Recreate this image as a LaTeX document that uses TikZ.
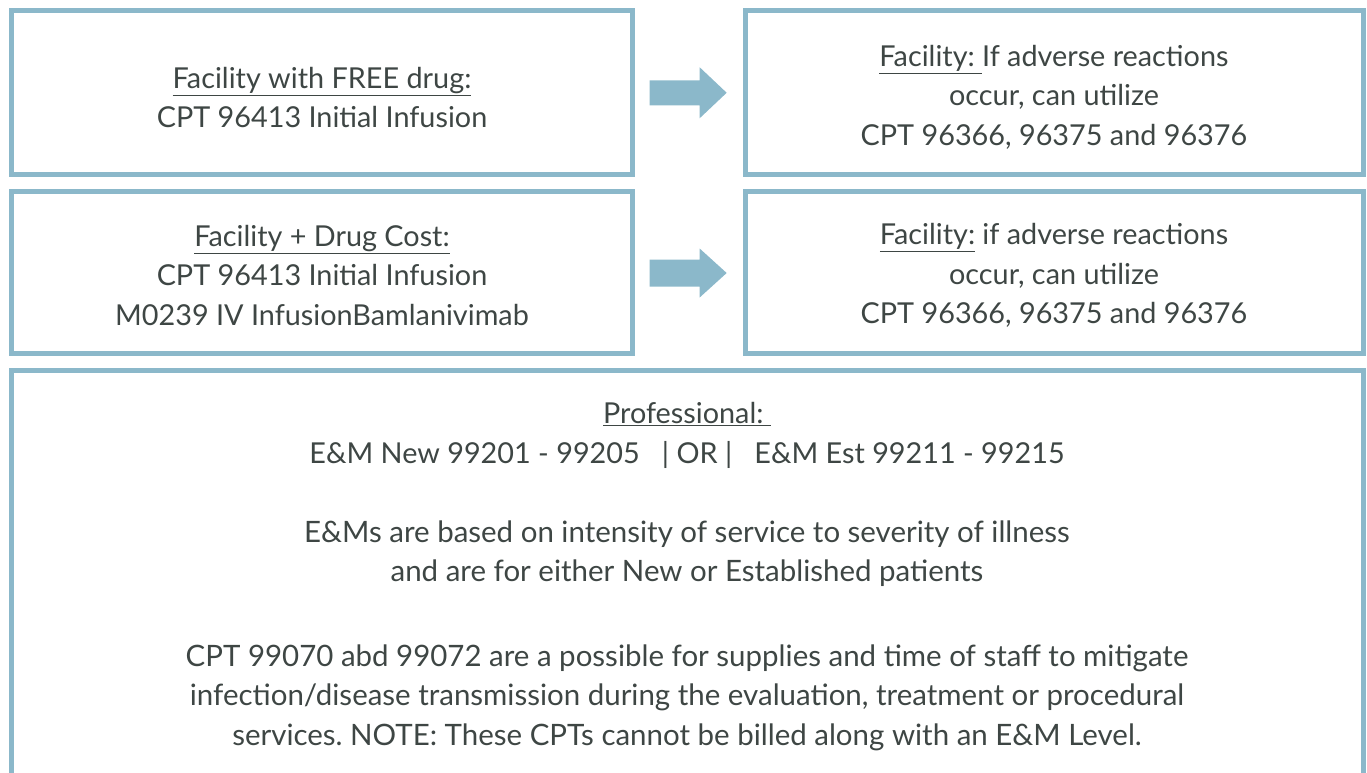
\documentclass[tikz,border=0pt]{standalone}
\usepackage{fontspec}
\setmainfont{Lato}
\usetikzlibrary{positioning,calc}
\definecolor{boxblue}{RGB}{139,184,202}
\definecolor{txtgrey}{RGB}{62,70,68}
\tikzset{
  codebox/.style={draw=boxblue, line width=3.75pt, minimum width=466pt, minimum height=123pt, inner sep=0pt},
  codetext/.style={text=txtgrey, align=center, inner sep=0pt, font=\fontsize{21.6}{29.6}\selectfont\frenchspacing}
}

\begin{document}
\begin{tikzpicture}[x=0.75pt,y=0.75pt,yscale=-1,xscale=1]
    \useasboundingbox (0,0) rectangle (1367,772);

    % Facility rows
    \node [codebox] (free) at (322,92.25) {};
    \node [codebox, minimum width=463.5pt] (freeadv) at (1054,92.25) {};
    \node [codebox, minimum height=122pt] (cost) at (322,272.5) {};
    \node [codebox, minimum width=463.5pt, minimum height=122pt] (costadv) at (1054,272.5) {};

    \node [codetext] (freetxt) at ([yshift=3.75pt]free.center) {\underline{Facility with FREE drug:}\\CPT 96413 Initial Infusion};
    \node [codetext] (freeadvtxt) at ([yshift=3.75pt]freeadv.center) {\underline{Facility: }If adverse reactions\\occur, can utilize\\CPT 96366, 96375 and 96376};
    \node [codetext] (costtxt) at ([yshift=2.25pt]cost.center) {\underline{Facility + Drug Cost:}\\CPT 96413 Initial Infusion\\M0239 IV InfusionBamlanivimab};
    \node [codetext] (costadvtxt) at ([yshift=2.25pt]costadv.center) {\underline{Facility:} if adverse reactions\\occur, can utilize\\CPT 96366, 96375 and 96376};

    % Block arrows
    \fill [boxblue] ($(free.east)+(14.5,-12)$) -- ++(50,0) -- ++(0,-13) -- ++(27,25.5) -- ++(-27,25.5) -- ++(0,-13) -- ++(-50,0) -- cycle;
    \fill [boxblue] ($(cost.east)+(14.5,-13)$) -- ++(50,0) -- ++(0,-11) -- ++(27,24.5) -- ++(-27,24.5) -- ++(0,-11) -- ++(-50,0) -- cycle;

    % Professional box
    \draw [boxblue, line width=3.75pt] (11,790) -- (11,370) -- (1363,370) -- (1363,790);
    \node [codetext] (prof) at (687,576.5) {\underline{Professional: }\\
      E\&M New 99201 - 99205 \ \ | OR | \ \ E\&M Est 99211 - 99215\\[29.6pt]
      \fontsize{22.1}{29.6}\selectfont E\&Ms are based on intensity of service to severity of illness\\
      \fontsize{22.1}{29.6}\selectfont and are for either New or Established patients\\[34pt]
      \fontsize{22.1}{29.6}\selectfont CPT 99070 abd 99072 are a possible for supplies and time of staff to mitigate\\
      \fontsize{22.1}{29.6}\selectfont infection/disease transmission during the evaluation, treatment or procedural\\
      \fontsize{22.1}{29.6}\selectfont services. NOTE: These CPTs cannot be billed along with an E\&M Level.};
\end{tikzpicture}
\end{document}
